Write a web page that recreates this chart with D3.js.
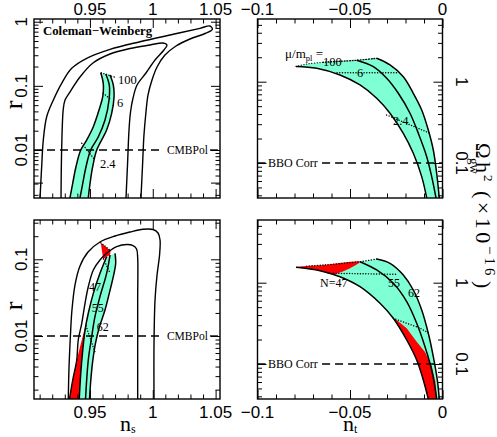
<!DOCTYPE html>
<html><head><meta charset="utf-8">
<script src="https://cdn.jsdelivr.net/npm/d3@7"></script>
<style>body{margin:0;background:#fff}svg{display:block}</style>
</head><body><svg id="c" width="497" height="437"></svg>
<script>
// ---------------- DATA ----------------
const nsDomain = [0.9055, 1.0535];
const ntDomain = [-0.1, 0];
const rDomainTop = [0.001786, 1.102];
const rDomainBottom = [0.00151, 0.3254];
const omegaDomain = [0.0371, 5.904];

const nsTickValues = [0.95, 1, 1.05];
const nsTickLabels = ["0.95", "1", "1.05"];
const ntTickValues = [-0.1, -0.05, 0];
const ntTickLabels = ["\u22120.1", "\u22120.05", "0"];
const rTickValues = [0.01, 0.1, 1];
const rTickLabels = ["0.01", "0.1", "1"];
const omegaTickValues = [0.1, 1];
const omegaTickLabels = ["0.1", "1"];

// Top-left: Coleman-Weinberg contours (ns, r)
const tlOuterContour = [[0.9103,0.00179],[0.9116,0.00549],[0.9129,0.0143],[0.9156,0.0330],[0.9209,0.0602],[0.9275,0.1096],[0.9355,0.1877],[0.9474,0.2689],[0.9660,0.3713],[0.9898,0.4877],[1.0163,0.6364],[1.0376,0.7889],[1.0455,0.857],[1.0474,0.761],[1.0416,0.6549],[1.0296,0.5374],[1.0185,0.4181],[1.0097,0.3027],[1.0034,0.1967],[0.9994,0.1234],[0.9962,0.0720],[0.9946,0.0391],[0.9930,0.0171],[0.9918,0.00543],[0.9906,0.00179]];
const tlInnerContour = [[0.9270,0.00179],[0.9275,0.0100],[0.9288,0.0436],[0.9302,0.0602],[0.9341,0.0802],[0.9421,0.1374],[0.9524,0.2271],[0.9660,0.3137],[0.9819,0.3821],[0.9978,0.4334],[1.0081,0.4656],[1.0113,0.4334],[1.0089,0.3620],[1.0018,0.2529],[0.9946,0.1586],[0.9875,0.1031],[0.9843,0.0646],[0.9823,0.0391],[0.9811,0.0205],[0.9799,0.00584],[0.9787,0.00179]];
const tlBandLeft = [[0.9586,0.1603],[0.9606,0.1096],[0.9602,0.0678],[0.9575,0.0436],[0.9527,0.0231],[0.9474,0.0143],[0.9427,0.0100],[0.9389,0.00549],[0.9363,0.00303],[0.9341,0.00179]];
const tlBandMid = [[0.9626,0.1530],[0.9654,0.1031],[0.9652,0.0602],[0.9620,0.0294],[0.9567,0.0161],[0.9506,0.0100],[0.9469,0.00549],[0.9443,0.00303],[0.9421,0.00179]];
const tlBandRight = [[0.9660,0.1476],[0.9686,0.1031],[0.9692,0.0678],[0.9673,0.0373],[0.9633,0.0205],[0.9554,0.0100],[0.9522,0.00549],[0.9501,0.00303],[0.9487,0.00179]];
const tlMuLines = [[[0.9590,0.160],[0.9700,0.136]], [[0.9606,0.0766],[0.9673,0.0602]], [[0.9435,0.01272],[0.9540,0.00698]]];
const tlMuLabels = ["100", "6", "2.4"];
const tlMuLabelAt = [[0.9723,0.1069],[0.9715,0.0468],[0.9580,0.00524]];

// Top-right: (nt, Omega h^2 x 1e16)
const trTop = [[-0.0792,1.54],[-0.0734,1.651],[-0.0644,1.732],[-0.0554,1.782],[-0.0464,1.834],[-0.0356,1.940]];
const trRight = [[-0.0356,1.940],[-0.02838,1.605],[-0.02119,1.152],[-0.01578,0.7201],[-0.01124,0.4486],[-0.00768,0.2545],[-0.00497,0.1445],[-0.00314,0.0747],[-0.00173,0.0371]];
const trMid = [[-0.0464,1.834],[-0.03741,1.529],[-0.03016,1.101],[-0.02389,0.720],[-0.01757,0.4088],[-0.01308,0.2319],[-0.00854,0.1196],[-0.00584,0.0679],[-0.00351,0.0371]];
const trLower = [[-0.0792,1.54],[-0.06800,1.461],[-0.05541,1.209],[-0.04459,0.911],[-0.03557,0.6249],[-0.02838,0.4088],[-0.02119,0.2319],[-0.01578,0.1316],[-0.01124,0.0679],[-0.00854,0.0371]];
const trMuLines = [[[-0.0644,1.732],[-0.0554,1.782],[-0.0464,1.834],[-0.0356,1.940]], [[-0.0570,1.290],[-0.0246,1.290]], [[-0.0302,0.3895],[-0.0068,0.2319]]];
const trMuLabels = ["100", "6", "2.4"];
const trMuLabelAt = [[-0.0646,1.56],[-0.0462,1.14],[-0.0268,0.294]];

// Bottom-left: (ns, r)
const blOuterContour = [[0.9328,0.00151],[0.9333,0.00360],[0.9345,0.01030],[0.9357,0.0218],[0.9381,0.0462],[0.9421,0.0818],[0.9485,0.1245],[0.9580,0.1681],[0.9700,0.2012],[0.9819,0.2270],[0.9922,0.2461],[1.0002,0.2446],[1.0042,0.2203],[1.0058,0.1785],[1.0054,0.1138],[1.0034,0.0624],[1.0018,0.0295],[1.0010,0.00811],[1.0010,0.00151]];
const blInnerContour = [[0.9337,0.00151],[0.9363,0.00267],[0.9395,0.00487],[0.9407,0.00887],[0.9435,0.01464],[0.9461,0.0267],[0.9487,0.0439],[0.9527,0.0725],[0.9580,0.0979],[0.9633,0.1197],[0.9713,0.1460],[0.9795,0.1560],[0.9843,0.1513],[0.9871,0.1363],[0.9880,0.1039],[0.9880,0.0295],[0.9880,0.00151]];
const blBandLeft = [[0.9633,0.1081],[0.9580,0.0657],[0.9527,0.0360],[0.9487,0.0198],[0.9461,0.01197],[0.9443,0.00657],[0.9427,0.00326],[0.9415,0.00151]];
const blBandMid = [[0.9660,0.1138],[0.9633,0.0657],[0.9580,0.0326],[0.9540,0.01785],[0.9514,0.00979],[0.9487,0.00487],[0.9465,0.00151]];
const blBandRight = [[0.9700,0.1197],[0.9705,0.0887],[0.9686,0.0593],[0.9654,0.0360],[0.9620,0.0218],[0.9576,0.01322],[0.9544,0.00803],[0.9520,0.00441],[0.9505,0.00242],[0.9497,0.00151]];
const blRedTop = [[0.9586,0.1646],[0.9665,0.1294],[0.9660,0.1138],[0.9633,0.1081],[0.9606,0.1000]];
const blRedLow = [[0.9477,0.01617],[0.9457,0.0103],[0.9443,0.00657],[0.9427,0.00326],[0.9415,0.00151],[0.9336,0.00151],[0.9363,0.00267],[0.9395,0.00487],[0.9435,0.00887]];
const blNLines = [[[0.9586,0.1646],[0.9665,0.1294]], [[0.9608,0.1009],[0.9660,0.0663]], [[0.9469,0.0135],[0.9540,0.00619]]];
const blNLabels = ["47", "55", "62"];
const blNLabelAt = [[0.9493,0.0386],[0.9514,0.0206],[0.9554,0.01162]];

// Bottom-right: (nt, Omega h^2 x 1e16)
const brTop = [[-0.0792,1.547],[-0.0644,1.651],[-0.0446,1.813],[-0.0356,1.957]];
const brRight = [[-0.0356,1.957],[-0.02838,1.732],[-0.02119,1.244],[-0.01578,0.8131],[-0.01124,0.4615],[-0.00768,0.2385],[-0.00497,0.1230],[-0.00281,0.0636],[-0.00173,0.0371]];
const brMid = [[-0.0446,1.813],[-0.03557,1.433],[-0.02659,0.983],[-0.01935,0.5840],[-0.01395,0.3167],[-0.00946,0.1632],[-0.00584,0.0844],[-0.00314,0.0371]];
const brLower = [[-0.0792,1.547],[-0.06622,1.405],[-0.05541,1.185],[-0.04459,0.8929],[-0.03378,0.5580],[-0.02659,0.3648],[-0.01935,0.1973],[-0.01395,0.1120],[-0.01038,0.0636],[-0.00768,0.0371]];
const brRedTop = [[-0.0792,1.547],[-0.0644,1.651],[-0.0446,1.813],[-0.0590,1.27],[-0.06622,1.405]];
const brRedLow = [[-0.02659,0.3648],[-0.02476,0.3477],[-0.01935,0.2749],[-0.01395,0.1880],[-0.00946,0.1405],[-0.00584,0.0945],[-0.00378,0.0601],[-0.00297,0.0371],[-0.00768,0.0371],[-0.01038,0.0636],[-0.01395,0.1120],[-0.01935,0.1973]];
const brNLines = [[[-0.0734,1.60],[-0.0644,1.651],[-0.0446,1.813],[-0.0356,1.957]], [[-0.0590,1.305],[-0.0248,1.268]], [[-0.0266,0.3648],[-0.01935,0.3167],[-0.01216,0.2749],[-0.00676,0.2339]]];
const brNLabels = ["N=47", "55", "62"];
const brNLabelAt = [[-0.0662,0.885],[-0.0295,0.885],[-0.0186,0.667]];

const cmbpolLevel = 0.01;
const bboLevel = 0.1;

// ---------------- DRAWING ----------------
const SANS = "'Liberation Sans', Arial, Helvetica, sans-serif";
const SERIF = "'Liberation Serif', 'Times New Roman', serif";
const CYAN = "#7fffd4", RED = "#ff0000";
const svg = d3.select("#c");

function mkPanel(id, box, xDom, yDom) {
  const p = Object.assign({id}, box);
  p.x = d3.scaleLinear(xDom, [box.left, box.right]);
  p.y = d3.scaleLog(yDom, [box.bottom, box.top]);
  svg.append("clipPath").attr("id", "clip-" + id).append("rect")
    .attr("x", box.left).attr("y", box.top).attr("width", box.right - box.left).attr("height", box.bottom - box.top);
  p.g = svg.append("g").attr("clip-path", `url(#clip-${id})`);
  p.line = d3.line().x(d => p.x(d[0])).y(d => p.y(d[1])).curve(d3.curveCatmullRom.alpha(0.5));
  p.lin = d3.line().x(d => p.x(d[0])).y(d => p.y(d[1]));
  return p;
}
const TL = mkPanel("tl", {left:34, right:220, top:19, bottom:198}, nsDomain, rDomainTop);
const BL = mkPanel("bl", {left:34, right:220, top:220, bottom:399}, nsDomain, rDomainBottom);
const TR = mkPanel("tr", {left:257.5, right:442.5, top:19, bottom:198}, ntDomain, omegaDomain);
const BR = mkPanel("br", {left:257.5, right:442.5, top:220, bottom:399}, ntDomain, omegaDomain);

function joinPath(p, parts) {
  return parts.map((a, i) => { const s = p.line(a); return i === 0 ? s : "L" + s.slice(1); }).join("") + "Z";
}
function fill(p, d, color) { p.g.append("path").attr("d", d).attr("fill", color).attr("stroke", "none"); }
function stroke(p, data, w, dash, linear) {
  const el = p.g.append("path").attr("d", (linear ? p.lin : p.line)(data)).attr("fill", "none")
    .attr("stroke", "#000").attr("stroke-width", w).attr("stroke-linejoin", "round");
  if (dash) el.attr("stroke-dasharray", dash).attr("stroke-linecap", "round");
  return el;
}
const DOT = "0.1,2.6";
function label(p, at, txt, size, extra) {
  const t = svg.append("text").attr("x", p.x(at[0])).attr("y", p.y(at[1]))
    .style("font-family", SERIF).style("font-size", size + "px").attr("fill", "#000").text(txt);
  if (extra) extra(t);
  return t;
}

// --- Top-left
fill(TL, joinPath(TL, [tlBandLeft, tlBandRight.slice().reverse()]), CYAN);
stroke(TL, tlOuterContour, 1.4); stroke(TL, tlInnerContour, 1.4);
[tlBandLeft, tlBandMid, tlBandRight].forEach(a => stroke(TL, a, 1.5));
tlMuLines.forEach(a => stroke(TL, a, 1.4, DOT, true));
tlMuLabels.forEach((t, i) => label(TL, tlMuLabelAt[i], t, 12.5));

// --- Bottom-left
fill(BL, joinPath(BL, [blBandLeft, blBandRight.slice().reverse()]), CYAN);
fill(BL, d3.line().x(d => BL.x(d[0])).y(d => BL.y(d[1])).curve(d3.curveLinearClosed)(blRedTop), RED);
fill(BL, d3.line().x(d => BL.x(d[0])).y(d => BL.y(d[1])).curve(d3.curveLinearClosed)(blRedLow), RED);
stroke(BL, blOuterContour, 1.4); stroke(BL, blInnerContour, 1.4);
[blBandLeft, blBandMid, blBandRight].forEach(a => stroke(BL, a, 1.5));
blNLines.forEach(a => stroke(BL, a, 1.4, DOT, true));
blNLabels.forEach((t, i) => label(BL, blNLabelAt[i], t, 12));

// --- Top-right
fill(TR, joinPath(TR, [trTop, trRight, trLower.slice().reverse()]), CYAN);
[trRight, trMid, trLower].forEach(a => stroke(TR, a, 1.5));
stroke(TR, trTop, 1.2, DOT);
trMuLines.forEach(a => stroke(TR, a, 1.4, DOT, false));
trMuLabels.forEach((t, i) => label(TR, trMuLabelAt[i], t, 12.5));
label(TR, [-0.0851, 1.96], "\u03bc/m", 13, t => {
  t.append("tspan").attr("dy", 3).style("font-size", "8.5px").text("pl");
  t.append("tspan").attr("dy", -3).text(" =");
});

// --- Bottom-right
fill(BR, joinPath(BR, [brTop, brRight, brLower.slice().reverse()]), CYAN);
fill(BR, d3.line().x(d => BR.x(d[0])).y(d => BR.y(d[1])).curve(d3.curveCatmullRomClosed.alpha(0.5))(brRedTop), RED);
fill(BR, d3.line().x(d => BR.x(d[0])).y(d => BR.y(d[1])).curve(d3.curveLinearClosed)(brRedLow), RED);
[brRight, brMid, brLower].forEach(a => stroke(BR, a, 1.5));
brNLines.forEach(a => stroke(BR, a, 1.4, DOT, false));
brNLabels.forEach((t, i) => label(BR, brNLabelAt[i], t, 12));

// --- Dashed sensitivity lines
[TL, BL].forEach(p => {
  stroke(p, [[nsDomain[0], cmbpolLevel], [1.0081, cmbpolLevel]], 1.4, "8,5", true).attr("stroke-linecap", "butt");
  stroke(p, [[1.0455, cmbpolLevel], [nsDomain[1], cmbpolLevel]], 1.4, "8,5", true).attr("stroke-linecap", "butt");
  svg.append("text").attr("x", p.x(1.0113)).attr("y", p.y(cmbpolLevel) + 4.3)
    .style("font-family", SERIF).style("font-size", "11.5px").text("CMBPol");
});
[TR, BR].forEach(p => {
  stroke(p, [[ntDomain[0], bboLevel], [-0.0947, bboLevel]], 1.4, "8,5", true).attr("stroke-linecap", "butt");
  stroke(p, [[-0.0651, bboLevel], [ntDomain[1], bboLevel]], 1.4, "8,5", true).attr("stroke-linecap", "butt");
  svg.append("text").attr("x", p.x(-0.0943)).attr("y", p.y(bboLevel) + 4.3)
    .style("font-family", SERIF).style("font-size", "12px").text("BBO Corr");
});

svg.append("text").attr("x", TL.x(0.9127)).attr("y", TL.y(0.62))
  .style("font-family", SERIF).style("font-size", "12.5px").style("font-weight", "bold")
  .attr("textLength", 109).attr("lengthAdjust", "spacingAndGlyphs").text("Coleman\u2212Weinberg");

// --- Frames & ticks
function near(v, arr) { return arr.some(a => Math.abs(a - v) < 1e-9); }
function ticks(p, xMajor, yMajor, xMinorCount) {
  const xMinor = p.x.ticks(xMinorCount).filter(v => !near(v, xMajor));
  const yMinor = p.y.ticks().filter(v => !near(v, yMajor));
  const g = svg.append("g");
  const defs = [
    [d3.axisBottom, p.x, p.bottom, "x"], [d3.axisTop, p.x, p.top, "x"],
    [d3.axisLeft, p.y, p.left, "y"], [d3.axisRight, p.y, p.right, "y"]
  ];
  defs.forEach(([fn, sc, pos, dir]) => {
    [[dir === "x" ? xMinor : yMinor, -4.5], [dir === "x" ? xMajor : yMajor, -9]].forEach(([vals, size]) => {
      const a = g.append("g").attr("transform", dir === "x" ? `translate(0,${pos})` : `translate(${pos},0)`)
        .call(fn(sc).tickValues(vals).tickSize(size).tickFormat(""));
      a.select(".domain").remove();
      a.selectAll("line").attr("stroke", "#000").attr("stroke-width", 1);
    });
  });
  svg.append("rect").attr("x", p.left).attr("y", p.top).attr("width", p.right - p.left).attr("height", p.bottom - p.top)
    .attr("fill", "none").attr("stroke", "#000").attr("stroke-width", 1.4);
}
ticks(TL, nsTickValues, rTickValues, 15);
ticks(BL, nsTickValues, rTickValues, 15);
ticks(TR, ntTickValues, omegaTickValues, 10);
ticks(BR, ntTickValues, omegaTickValues, 10);

function tickText(x, y, txt, rot) {
  svg.append("text").attr("transform", `translate(${x},${y})` + (rot ? ` rotate(${rot})` : ""))
    .attr("text-anchor", "middle").style("font-family", SANS).style("font-size", "17px").text(txt);
}
nsTickValues.forEach((v, i) => { tickText(TL.x(v), 14.5, nsTickLabels[i]); tickText(BL.x(v), 418, nsTickLabels[i]); });
ntTickValues.forEach((v, i) => { tickText(TR.x(v), 14.5, ntTickLabels[i]); tickText(BR.x(v), 418, ntTickLabels[i]); });
rTickValues.forEach((v, i) => {
  if (v <= rDomainTop[1]) tickText(27, TL.y(v), rTickLabels[i], -90);
  if (v <= rDomainBottom[1]) tickText(27, BL.y(v), rTickLabels[i], -90);
});
omegaTickValues.forEach((v, i) => { tickText(456, TR.y(v), omegaTickLabels[i], 90); tickText(456, BR.y(v), omegaTickLabels[i], 90); });

// --- Axis titles
[105, 306].forEach(cy => {
  svg.append("text").attr("transform", `translate(22,${cy}) rotate(-90)`).attr("text-anchor", "middle")
    .style("font-family", SERIF).style("font-size", "26px").text("r");
});
[[120, "s"], [343, "t"]].forEach(([x, sub]) => {
  const t = svg.append("text").attr("x", x).attr("y", 430.5).style("font-family", SERIF).style("font-size", "22px").text("n");
  t.append("tspan").attr("dy", 2.5).style("font-size", "12px").text(sub);
});
const rt = svg.append("text").attr("transform", "translate(476,143) rotate(90)")
  .style("font-family", SERIF).style("font-size", "22px");
rt.append("tspan").attr("x", 0).style("font-size", "21px").text("\u03a9");
rt.append("tspan").attr("x", 15).attr("dy", 6).style("font-size", "13px").text("gw");
rt.append("tspan").attr("x", 19).attr("dy", -6).text("h");
rt.append("tspan").attr("x", 32).attr("dy", -8).style("font-size", "13px").text("2");
rt.append("tspan").attr("x", 48).attr("dy", 8).style("letter-spacing", "3.5px").text("(\u00d710");
rt.append("tspan").attr("x", 103).attr("dy", -9).style("font-size", "15px").style("letter-spacing", "3px").text("\u221216");
rt.append("tspan").attr("x", 138).attr("dy", 9).text(")");
</script></body></html>
